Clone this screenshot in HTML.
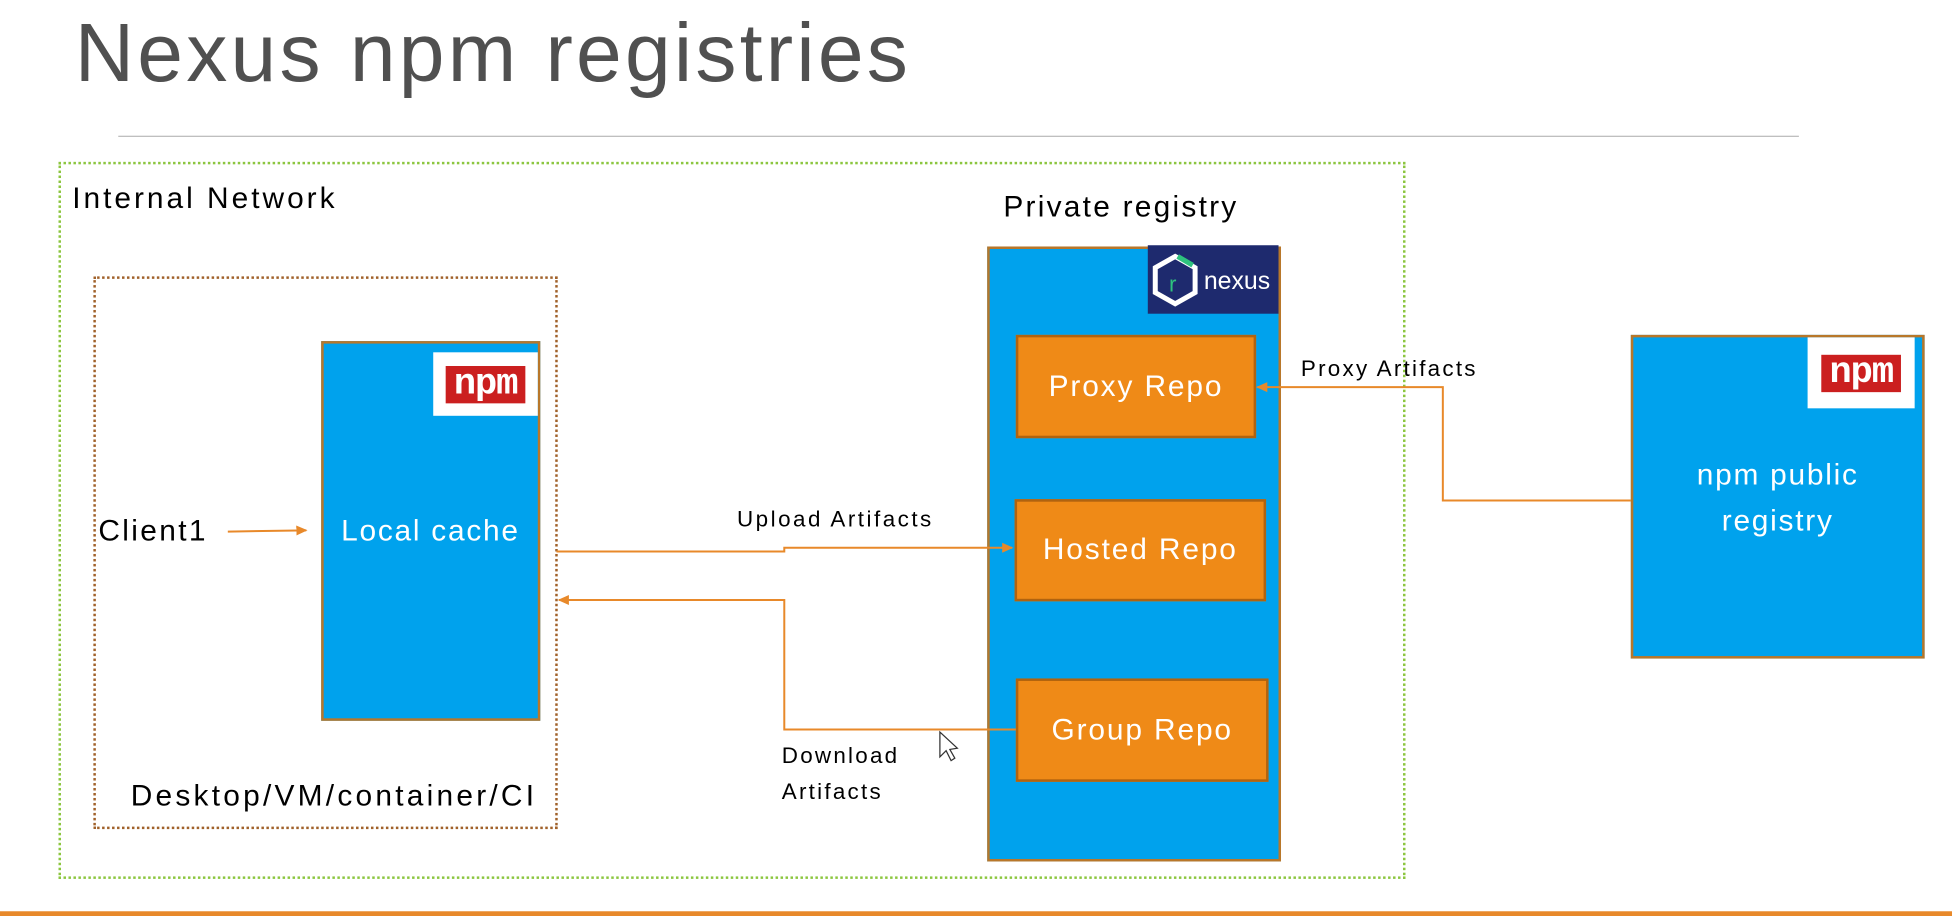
<!DOCTYPE html>
<html><head><meta charset="utf-8"><style>
html,body{margin:0;padding:0;background:#fff;overflow:hidden}
#w{width:1568px;height:736px;position:relative;transform:scale(1.2449);transform-origin:0 0;font-family:"Liberation Sans",sans-serif}
.a{position:absolute;box-sizing:border-box}
.blue{background:#00a2ed;border:2px solid #b8772a}
.or{background:#ef8a17;border:2px solid #b0630f;color:#fff;font-size:24px;letter-spacing:1.5px;display:flex;align-items:center;justify-content:center}
.t{position:absolute;white-space:nowrap;letter-spacing:1.8px}
.s{font-size:18px;letter-spacing:1.8px}
.npm{background:#fff;display:flex;align-items:center;justify-content:center}
.npm span{background:#cb1f1f;color:#fff;font:bold 30px/30px "Liberation Mono",monospace;padding:0 6px;letter-spacing:-1px}
</style></head><body><div id="w">
<div class="t" style="left:60px;top:4px;font-size:66px;color:#505050;letter-spacing:2.6px">Nexus npm registries</div>
<div class="a" style="left:95px;top:109px;width:1350px;height:1px;background:#bbb"></div>
<div class="a" style="left:47px;top:130px;width:1082px;height:576px;border:2px dotted #8cc63f"></div>
<div class="t" style="left:58px;top:146px;font-size:24px;letter-spacing:2.4px">Internal Network</div>
<div class="a" style="left:75px;top:222px;width:373px;height:444px;border:2px dotted #a0612a"></div>
<div class="a blue" style="left:258px;top:274px;width:176px;height:305px"></div>
<div class="a npm" style="left:348px;top:283px;width:84px;height:51px"><span>npm</span></div>
<div class="t" style="left:274px;top:413px;font-size:24px;color:#fff;letter-spacing:1.4px">Local cache</div>
<div class="t" style="left:79px;top:413px;font-size:24px;letter-spacing:1.9px">Client1</div>
<div class="t" style="left:105px;top:626px;font-size:24px;letter-spacing:2.6px">Desktop/VM/container/CI</div>
<div class="t" style="left:806px;top:153px;font-size:24px;letter-spacing:1.8px">Private registry</div>
<div class="a blue" style="left:793px;top:198px;width:236px;height:494px"></div>
<div class="a" style="left:922px;top:197px;width:105px;height:55px;background:#1e2a6e"></div>
<svg class="a" style="left:922px;top:197px" width="105" height="55"><polygon points="22,9 38,18 38,38 22,47 6,38 6,18" fill="none" stroke="#fff" stroke-width="4"/><line x1="24" y1="9" x2="36" y2="16" stroke="#2ec27e" stroke-width="4"/><text x="17" y="37" fill="#2ec27e" font-size="18" font-family="Liberation Sans">r</text><text x="45" y="35" fill="#fff" font-size="20" font-family="Liberation Sans">nexus</text></svg>
<div class="a or" style="left:816px;top:269px;width:193px;height:83px">Proxy Repo</div>
<div class="a or" style="left:815px;top:401px;width:202px;height:82px">Hosted Repo</div>
<div class="a or" style="left:816px;top:545px;width:203px;height:83px">Group Repo</div>
<div class="a blue" style="left:1310px;top:269px;width:236px;height:260px"></div>
<div class="a npm" style="left:1452px;top:271px;width:86px;height:57px"><span>npm</span></div>
<div class="t" style="left:1310px;top:363px;width:236px;text-align:center;font-size:24px;color:#fff;line-height:37px;white-space:normal;letter-spacing:1.4px">npm public<br>registry</div>
<div class="t s" style="left:592px;top:407px;letter-spacing:2px">Upload Artifacts</div>
<div class="t s" style="left:628px;top:593px;line-height:29px">Download<br>Artifacts</div>
<div class="t s" style="left:1045px;top:286px">Proxy Artifacts</div>
<svg class="a" style="left:0;top:0" width="1568" height="736">
<defs><marker id="m" markerWidth="10" markerHeight="10" refX="8" refY="5" orient="auto" markerUnits="userSpaceOnUse"><path d="M0,1 L9,5 L0,9 z" fill="#e8892a"/></marker></defs>
<g stroke="#e8892a" stroke-width="1.6" fill="none">
<line x1="183" y1="427" x2="246" y2="426" marker-end="url(#m)"/>
<polyline points="447,443 630,443 630,440 813,440" marker-end="url(#m)"/>
<polyline points="816,586 630,586 630,482 449,482" marker-end="url(#m)"/>
<polyline points="1310,402 1159,402 1159,311 1010,311" marker-end="url(#m)"/>
</g>
<path d="M755,588 L755,608 L760,603 L764,611 L767,609 L763,602 L769,601 z" fill="#fff" stroke="#333" stroke-width="1"/>
<rect x="0" y="732" width="1568" height="4" fill="#e8892a"/>
</svg>
</div></body></html>
